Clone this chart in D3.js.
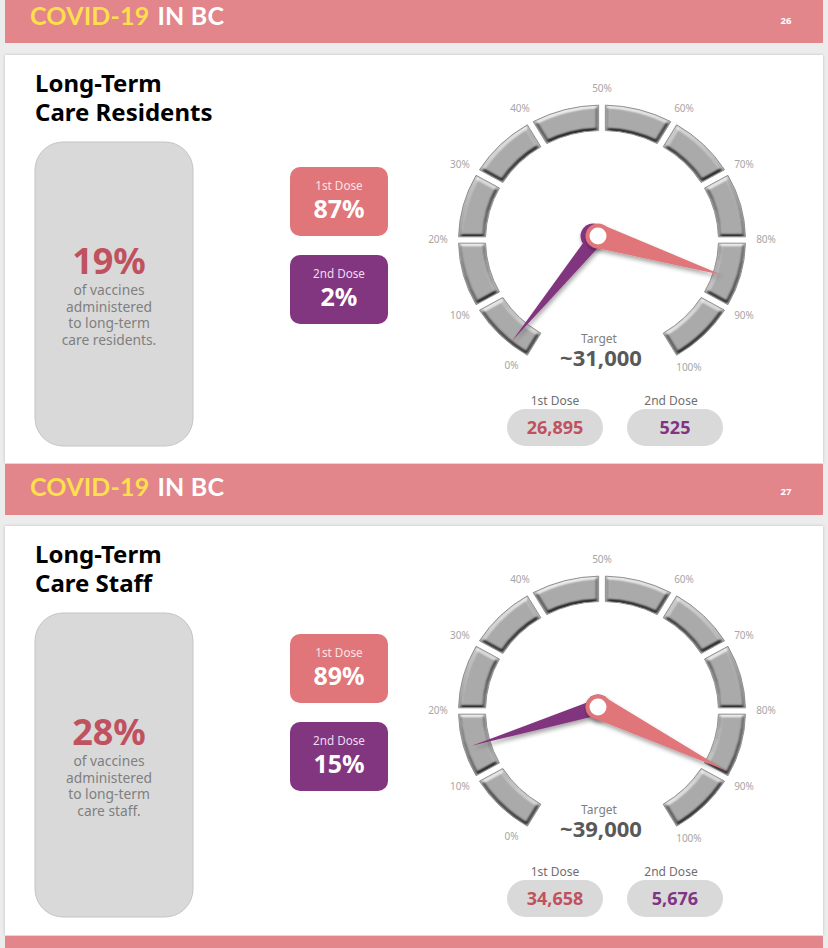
<!DOCTYPE html>
<html>
<head>
<meta charset="utf-8">
<script src="https://cdn.jsdelivr.net/npm/d3@7"></script>
<style>
    html, body { margin: 0; padding: 0; background: #ececec; }
    svg { display: block; }
    text { font-family: "Noto Sans", sans-serif; }
</style>
</head>
<body>
<svg id="chart" width="828" height="948"></svg>
<script>
    "use strict";

    // values
    var titles = [["Long-Term", "Care Residents"], ["Long-Term", "Care Staff"]];
    var sharePct = ["19%", "28%"];
    var shareLines = [
        ["of vaccines", "administered", "to long-term", "care residents."],
        ["of vaccines", "administered", "to long-term", "care staff."]
    ];
    var firstPct = ["87%", "89%"];
    var secondPct = ["2%", "15%"];
    var targets = ["~31,000", "~39,000"];
    var firstCounts = ["26,895", "34,658"];
    var secondCounts = ["525", "5,676"];
    // where the needles actually point on the dial, they sit a bit off the printed number
    var firstNeedle = [85.8, 88.8];
    var secondNeedle = [3.1, 14.3];
    var dialTicks = [0, 10, 20, 30, 40, 50, 60, 70, 80, 90, 100];
    var pageNumbers = ["26", "27"];

    var pink = "#e0757a", purple = "#82367f", band = "#e2868b";
    var red = "#c0525f", purpleText = "#7f3583", boxGrey = "#d9d9d9", textGrey = "#7f7f7f";

    var svg = d3.select("#chart");
    var defs = svg.append("defs");

    // bevel for the dial segments: white fill, the lighting brings it down to grey.
    // alpha is eroded first so the bevel stays inside the shape
    var bevel = defs.append("filter").attr("id", "bevel")
        .attr("color-interpolation-filters", "sRGB")
        .attr("x", "-20%").attr("y", "-20%").attr("width", "140%").attr("height", "140%");
    bevel.append("feMorphology").attr("in", "SourceAlpha").attr("operator", "erode").attr("radius", 1.5).attr("result", "thin");
    bevel.append("feGaussianBlur").attr("in", "thin").attr("stdDeviation", 1.2).attr("result", "blur");
    bevel.append("feDiffuseLighting").attr("in", "blur").attr("surfaceScale", 1.2)
        .attr("diffuseConstant", 0.93).attr("lighting-color", "#ffffff").attr("result", "light")
        .append("feDistantLight").attr("azimuth", 262).attr("elevation", 45);
    bevel.append("feComposite").attr("in", "SourceGraphic").attr("in2", "light")
        .attr("operator", "arithmetic").attr("k1", 1).attr("k2", 0).attr("k3", 0).attr("k4", 0)
        .attr("result", "lit");
    bevel.append("feComposite").attr("in", "lit").attr("in2", "SourceAlpha").attr("operator", "in");

    var needleShadow = defs.append("filter").attr("id", "needleShadow")
        .attr("x", "-30%").attr("y", "-30%").attr("width", "160%").attr("height", "160%");
    needleShadow.append("feDropShadow").attr("dx", 1).attr("dy", 3)
        .attr("stdDeviation", 2).attr("flood-color", "#000").attr("flood-opacity", 0.35);

    var cardShadow = defs.append("filter").attr("id", "cardShadow")
        .attr("x", "-2%").attr("y", "-2%").attr("width", "104%").attr("height", "104%");
    cardShadow.append("feDropShadow").attr("dx", 0).attr("dy", 0)
        .attr("stdDeviation", 1.5).attr("flood-color", "#000").attr("flood-opacity", 0.2);

    // cards first, the bands sit on top
    [[55, 408], [526, 409]].forEach(function(c) {
        svg.append("rect").attr("x", 5).attr("y", c[0]).attr("width", 818).attr("height", c[1])
            .attr("fill", "#fff").attr("filter", "url(#cardShadow)");
    });

    function drawBand(y, h, baseline, page) {
        svg.append("rect").attr("x", 5).attr("y", y).attr("width", 818).attr("height", h).attr("fill", band);
        if (baseline === null) return;
        var t = svg.append("text").attr("x", 30).attr("y", baseline)
            .style("font-family", "Lato, sans-serif").style("font-weight", 700)
            .style("font-size", "25px").style("letter-spacing", "0.2px");
        t.append("tspan").attr("fill", "#ffdf4d").text("COVID-19");
        t.append("tspan").attr("fill", "#fff").attr("dx", 8).text("IN BC");
        svg.append("text").attr("x", 786).attr("y", baseline - 1).attr("text-anchor", "middle")
            .attr("fill", "#fff").style("font-size", "9.5px").style("font-weight", 700).text(page);
    }
    drawBand(0, 43, 25, pageNumbers[0]);
    drawBand(464, 51, 496, pageNumbers[1]);
    drawBand(936, 12, null);

    // dial is 300 degrees, 0% lower left, 100% lower right
    var dialAngle = d3.scaleLinear().domain([0, 100]).range([-150, 150]);
    // end labels sit a little further up than the segment ends
    var tickAngle = d3.scaleLinear().domain([0, 10, 90, 100]).range([-146.5, -120, 120, 148]);
    var rad = function(d) { return d * Math.PI / 180; };
    var segment = d3.arc().innerRadius(116.5).outerRadius(143.5).padAngle(0.05).padRadius(135);

    function label(g, x, y, txt, size, weight, fill, anchor) {
        return g.append("text").attr("x", x).attr("y", y)
            .attr("text-anchor", anchor || "middle").attr("fill", fill)
            .style("font-size", size + "px").style("font-weight", weight).text(txt);
    }

    function drawNeedle(g, value, reach, halfWidth, color, hubShift) {
        var n = g.append("g").attr("filter", "url(#needleShadow)");
        n.append("circle").attr("cx", hubShift).attr("r", 12.5).attr("fill", color);
        n.append("path")
            .attr("d", "M" + (-halfWidth) + ",0L0," + (-reach) + "L" + halfWidth + ",0Z")
            .attr("transform", "rotate(" + dialAngle(value) + ")")
            .attr("fill", color);
    }

    function drawPanel(i, panelY, doseY) {
        var g = svg.append("g").attr("transform", "translate(0," + panelY + ")");

        label(g, 35, 92, titles[i][0], 24, 700, "#000", "start");
        label(g, 35, 121, titles[i][1], 24, 700, "#000", "start");

        // share box
        g.append("rect").attr("x", 35).attr("y", 142).attr("width", 158).attr("height", 304)
            .attr("rx", 28).attr("fill", boxGrey).attr("stroke", "#c4c4c4");
        label(g, 109, 274, sharePct[i], 36, 700, red);
        shareLines[i].forEach(function(line, k) {
            label(g, 109, 295 + k * 16.6, line, 13.8, 400, textGrey);
        });

        // dose boxes
        var dose = g.append("g").attr("transform", "translate(0," + doseY + ")");
        dose.append("rect").attr("x", 290).attr("y", 167).attr("width", 98).attr("height", 69).attr("rx", 10).attr("fill", pink);
        label(dose, 339, 190, "1st Dose", 11.7, 400, "#fbe3e4");
        label(dose, 339, 218, firstPct[i], 25, 700, "#fff");
        dose.append("rect").attr("x", 290).attr("y", 255).attr("width", 98).attr("height", 69).attr("rx", 10).attr("fill", purple);
        label(dose, 339, 278, "2nd Dose", 11.7, 400, "#eedcf0");
        label(dose, 339, 306, secondPct[i], 25, 700, "#fff");

        // dial, slightly squashed like the photo of the slide
        var dial = g.append("g").attr("transform", "translate(602,240) scale(1,0.94)");
        var segments = d3.pairs(dialTicks);
        var segmentPath = function(d) {
            return segment({ startAngle: rad(dialAngle(d[0])), endAngle: rad(dialAngle(d[1])) });
        };
        dial.selectAll("path.face").data(segments).enter().append("path")
            .attr("class", "face")
            .attr("d", segmentPath)
            .attr("fill", "#ffffff")
            .attr("filter", "url(#bevel)");
        dial.selectAll("path.rim").data(segments).enter().append("path")
            .attr("class", "rim")
            .attr("d", segmentPath)
            .attr("fill", "none")
            .attr("stroke", "#8a8a8a")
            .attr("stroke-width", 1);

        g.selectAll("text.tick").data(dialTicks).enter().append("text")
            .attr("class", "tick")
            .attr("x", function(d) { return 602 + 164 * Math.sin(rad(tickAngle(d))); })
            .attr("y", function(d) { return 243 - 151 * Math.cos(rad(tickAngle(d))); })
            .attr("text-anchor", "middle").attr("fill", "#a6a6a6")
            .style("font-size", "10px")
            .text(function(d) { return d + "%"; });

        // needles, first dose on top
        var hub = g.append("g").attr("transform", "translate(598,236)");
        drawNeedle(hub, secondNeedle[i], i === 0 ? 136 : 132, 8, purple, i === 0 ? -5 : 0);
        drawNeedle(hub, firstNeedle[i], i === 0 ? 130 : 141, 12, pink, 0);
        hub.append("circle").attr("r", 8.5).attr("fill", "#fff");

        label(g, 599, 343, "Target", 12, 400, textGrey);
        label(g, 601, 366, targets[i], 22, 700, "#595959");

        // counts
        label(g, 555, 405, "1st Dose", 12, 400, "#6f6f6f");
        label(g, 671, 405, "2nd Dose", 12, 400, "#6f6f6f");
        g.append("rect").attr("x", 507).attr("y", 409).attr("width", 96).attr("height", 37).attr("rx", 18.5).attr("fill", boxGrey);
        g.append("rect").attr("x", 627).attr("y", 409).attr("width", 96).attr("height", 37).attr("rx", 18.5).attr("fill", boxGrey);
        label(g, 555, 434, firstCounts[i], 18, 700, red);
        label(g, 675, 434, secondCounts[i], 18, 700, purpleText);
    }

    drawPanel(0, 0, 0);
    drawPanel(1, 471, -4);
</script>
</body>
</html>
